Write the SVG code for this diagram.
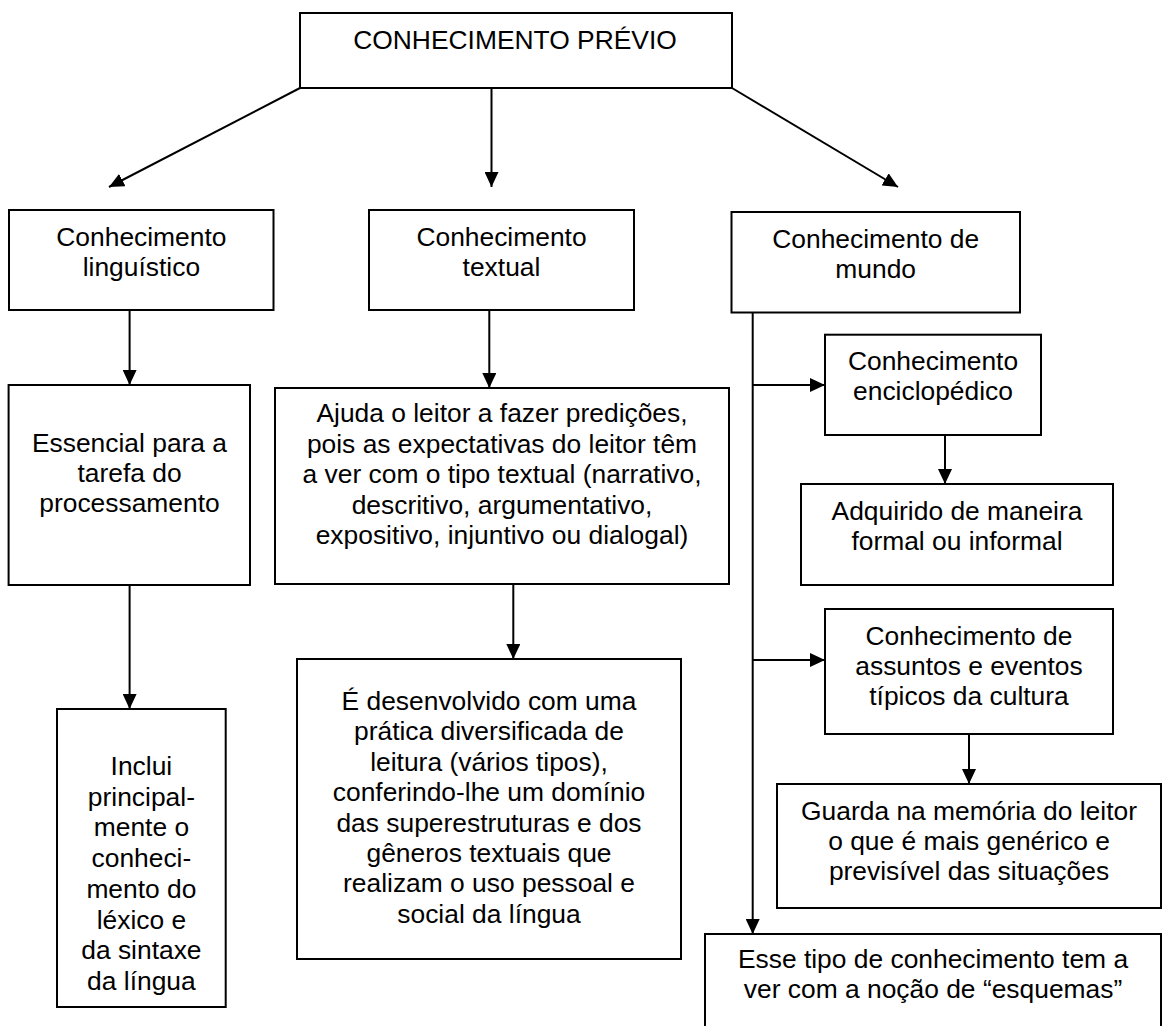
<svg xmlns="http://www.w3.org/2000/svg" width="1163" height="1026" viewBox="0 0 1163 1026">
<style>
.box{fill:#fff;stroke:#000;stroke-width:2}
.t{font-family:"Liberation Sans",Arial,sans-serif;font-size:26.4px;fill:#000;text-anchor:middle}
.c{fill:none;stroke:#000;stroke-width:2}
.a{marker-end:url(#ah)}
</style>
<defs>
<marker id="ah" markerUnits="userSpaceOnUse" markerWidth="16" markerHeight="14" refX="15" refY="7" orient="auto" viewBox="0 0 16 14">
<path d="M0,0 L15,7 L0,14 Z" fill="#000"/>
</marker>
</defs>
<rect width="1163" height="1026" fill="#fff"/>
<g id="connectors">
<line class="c a" x1="300" y1="88" x2="109" y2="187"/>
<line class="c a" x1="491.5" y1="88" x2="491.5" y2="187"/>
<line class="c a" x1="732" y1="88" x2="898" y2="187"/>
<line class="c a" x1="129.6" y1="310" x2="129.6" y2="385"/>
<line class="c a" x1="489.3" y1="310" x2="489.3" y2="388"/>
<line class="c a" x1="129.6" y1="585" x2="129.6" y2="709"/>
<line class="c a" x1="513.3" y1="584" x2="513.3" y2="659"/>
<line class="c a" x1="752.7" y1="312" x2="752.7" y2="934"/>
<line class="c a" x1="752.7" y1="385" x2="825" y2="385"/>
<line class="c a" x1="945" y1="435" x2="945" y2="484"/>
<line class="c a" x1="752.7" y1="660" x2="825" y2="660"/>
<line class="c a" x1="969" y1="734" x2="969" y2="784"/>
</g>
<g id="n-previo">
<rect class="box" x="300" y="13" width="432" height="75"/>
<text class="t" x="515" y="49">CONHECIMENTO PRÉVIO</text>
</g>
<g id="n-linguistico">
<rect class="box" x="9" y="210" width="264.5" height="100"/>
<text class="t" x="141.4" y="245.5">Conhecimento</text>
<text class="t" x="141.4" y="276">linguístico</text>
</g>
<g id="n-textual">
<rect class="box" x="369" y="210" width="265" height="100"/>
<text class="t" x="501.5" y="245.5">Conhecimento</text>
<text class="t" x="501.5" y="276">textual</text>
</g>
<g id="n-mundo">
<rect class="box" x="731.5" y="212" width="288.5" height="100.5"/>
<text class="t" x="875.7" y="248">Conhecimento de</text>
<text class="t" x="875.7" y="278">mundo</text>
</g>
<g id="n-essencial">
<rect class="box" x="8.6" y="385" width="241.4" height="200"/>
<text class="t" x="129.5" y="451.7">Essencial para a</text>
<text class="t" x="129.5" y="481.7">tarefa do</text>
<text class="t" x="129.5" y="511.7">processamento</text>
</g>
<g id="n-ajuda">
<rect class="box" x="275" y="388" width="454" height="196"/>
<text class="t" x="502" y="422">Ajuda o leitor a fazer predições,</text>
<text class="t" x="502" y="452.5">pois as expectativas do leitor têm</text>
<text class="t" x="502" y="483">a ver com o tipo textual (narrativo,</text>
<text class="t" x="502" y="513.5">descritivo, argumentativo,</text>
<text class="t" x="502" y="544">expositivo, injuntivo ou dialogal)</text>
</g>
<g id="n-desenvolvido">
<rect class="box" x="297" y="659" width="384" height="300"/>
<text class="t" x="489" y="710">É desenvolvido com uma</text>
<text class="t" x="489" y="740.4">prática diversificada de</text>
<text class="t" x="489" y="770.8">leitura (vários tipos),</text>
<text class="t" x="489" y="801.2">conferindo-lhe um domínio</text>
<text class="t" x="489" y="831.6">das superestruturas e dos</text>
<text class="t" x="489" y="862">gêneros textuais que</text>
<text class="t" x="489" y="892.4">realizam o uso pessoal e</text>
<text class="t" x="489" y="922.8">social da língua</text>
</g>
<g id="n-inclui">
<rect class="box" x="57" y="709" width="168.7" height="298"/>
<text class="t" x="141.4" y="775">Inclui</text>
<text class="t" x="141.4" y="805.7">principal-</text>
<text class="t" x="141.4" y="836.4">mente o</text>
<text class="t" x="141.4" y="867">conheci-</text>
<text class="t" x="141.4" y="897.8">mento do</text>
<text class="t" x="141.4" y="928.5">léxico e</text>
<text class="t" x="141.4" y="959.2">da sintaxe</text>
<text class="t" x="141.4" y="990">da língua</text>
</g>
<g id="n-enciclopedico">
<rect class="box" x="825" y="334.7" width="216" height="100.3"/>
<text class="t" x="933" y="370">Conhecimento</text>
<text class="t" x="933" y="400">enciclopédico</text>
</g>
<g id="n-adquirido">
<rect class="box" x="801" y="484" width="312" height="101"/>
<text class="t" x="957" y="520">Adquirido de maneira</text>
<text class="t" x="957" y="550">formal ou informal</text>
</g>
<g id="n-assuntos">
<rect class="box" x="825" y="609" width="288" height="125"/>
<text class="t" x="969" y="644.5">Conhecimento de</text>
<text class="t" x="969" y="675">assuntos e eventos</text>
<text class="t" x="969" y="705">típicos da cultura</text>
</g>
<g id="n-guarda">
<rect class="box" x="777" y="784" width="384" height="124"/>
<text class="t" x="969" y="820">Guarda na memória do leitor</text>
<text class="t" x="969" y="850">o que é mais genérico e</text>
<text class="t" x="969" y="880">previsível das situações</text>
</g>
<g id="n-esquemas">
<rect class="box" x="705" y="934" width="456" height="110"/>
<text class="t" x="933" y="968">Esse tipo de conhecimento tem a</text>
<text class="t" x="933" y="998">ver com a noção de “esquemas”</text>
</g>
</svg>
